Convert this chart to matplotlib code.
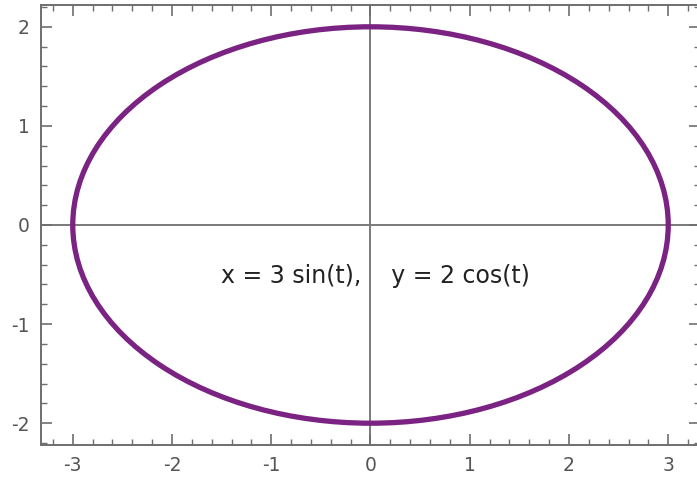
import matplotlib
matplotlib.use("Agg")
import matplotlib.pyplot as plt
from matplotlib.patches import Ellipse
from matplotlib.ticker import MultipleLocator

plt.rcParams["axes.unicode_minus"] = False

# ============ Curve parameters: x = a sin(t), y = b cos(t) ============
a_x = 3
b_y = 2
x_ticks = [-3, -2, -1, 0, 1, 2, 3]
y_ticks = [-2, -1, 0, 1, 2]
x_lim = (-3.32, 3.32)
y_lim = (-2.22, 2.22)
label_text = "x = 3 sin(t),    y = 2 cos(t)"

frame_col = "#6e6e6e"
purple = "#7b2382"

fig = plt.figure(figsize=(6.97, 4.78), dpi=100)
ax = fig.add_axes([41 / 697, 33 / 478, 659 / 697, 440 / 478])

# axes through origin
ax.axhline(0, color="#7a7a7a", lw=1.4, zorder=1)
ax.axvline(0, color="#7a7a7a", lw=1.4, zorder=1)

ell = Ellipse((0, 0), width=2 * a_x, height=2 * b_y, fill=False,
              edgecolor=purple, lw=3.8, zorder=3)
ax.add_patch(ell)

ax.set_xlim(*x_lim)
ax.set_ylim(*y_lim)
ax.set_xticks(x_ticks)
ax.set_yticks(y_ticks)
ax.xaxis.set_minor_locator(MultipleLocator(0.2))
ax.yaxis.set_minor_locator(MultipleLocator(0.2))
ax.tick_params(which="both", direction="in", top=True, right=True,
               color=frame_col, labelcolor="#555555", labelsize=13.5)
ax.tick_params(which="major", length=8, width=1.2, pad=8)
ax.tick_params(which="minor", length=4.5, width=1.0)
for sp in ax.spines.values():
    sp.set_color(frame_col)
    sp.set_linewidth(1.4)

ax.text(0.05, -0.51, label_text, ha="center", va="center", fontsize=17,
        color="#222222", family=["DejaVu Sans"], zorder=4)

fig.savefig("out.png", dpi=100)
